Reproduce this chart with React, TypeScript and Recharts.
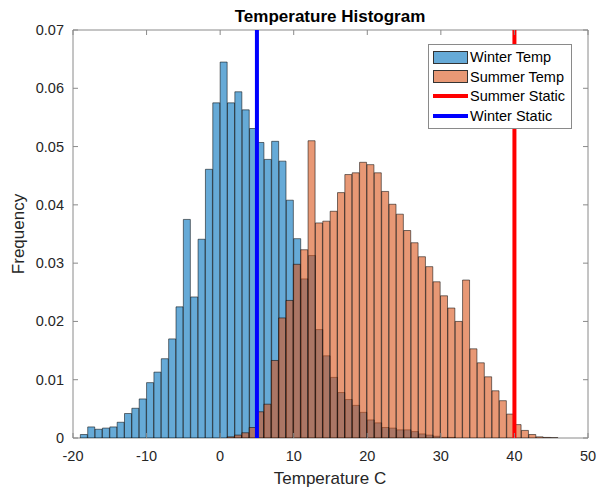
import { Bar, ComposedChart, ReferenceArea, ReferenceLine, XAxis, YAxis } from "recharts";

// histogram bins are 1 degree wide, first bin starts at -20
const BIN_START = -20;

// frequency per bin (bins -20 .. 49)
const WINTER = [
  0, 0.0006, 0.0019, 0.0015, 0.0017, 0.0019, 0.0027, 0.0042, 0.0051, 0.0067,
  0.0095, 0.0113, 0.0136, 0.017, 0.0225, 0.0375, 0.0242, 0.0341, 0.0461, 0.0575,
  0.0645, 0.0575, 0.0594, 0.0563, 0.0531, 0.0507, 0.0478, 0.0509, 0.0475, 0.0408,
  0.0342, 0.0273, 0.0313, 0.0186, 0.0141, 0.0104, 0.0078, 0.0066, 0.0056, 0.0044,
  0.0031, 0.0026, 0.0018, 0.0017, 0.0014, 0.0014, 0.0011, 0.0007, 0.0005, 0.0003,
  0.0001, 0.0001, 0, 0, 0, 0, 0, 0, 0, 0,
  0, 0, 0, 0, 0, 0, 0, 0, 0, 0,
];

const SUMMER = [
  0, 0, 0, 0, 0, 0, 0, 0, 0, 0,
  0, 0, 0, 0, 0, 0, 0, 0, 0, 0,
  0, 0.0002, 0.0005, 0.0009, 0.0018, 0.0045, 0.0058, 0.0133, 0.0206, 0.0236,
  0.0298, 0.0323, 0.051, 0.0369, 0.0372, 0.0389, 0.0421, 0.0452, 0.0455, 0.0473,
  0.0469, 0.0455, 0.0423, 0.0401, 0.0384, 0.0356, 0.0335, 0.0311, 0.0294, 0.0268,
  0.0244, 0.0223, 0.02, 0.0271, 0.0153, 0.0129, 0.0105, 0.0081, 0.0064, 0.0041,
  0.0023, 0.0013, 0.0006, 0.0002, 0.0001, 0.00005, 0, 0, 0, 0,
];

const X_TICKS = [-20, -10, 0, 10, 20, 30, 40, 50];
const Y_TICKS = [0, 0.01, 0.02, 0.03, 0.04, 0.05, 0.06, 0.07];

const WINTER_STATIC = 5;
const SUMMER_STATIC = 40;

const data = WINTER.map((winter, i) => ({ k: BIN_START + i, winter, summer: SUMMER[i] }));

const FONT = '"Liberation Sans", Arial, sans-serif';
const INK = "#262626";
const AXIS = "#8a8a8a";
const PLOT_LEFT = 73;
const PLOT_RIGHT = 588;
const PLOT_TOP = 30;
const PLOT_BOTTOM = 438;
const TICK_LEN = 5;

function XTick({ x, payload }: any) {
  return (
    <g>
      <line x1={x} x2={x} y1={PLOT_BOTTOM} y2={PLOT_BOTTOM - TICK_LEN} stroke={AXIS} />
      <line x1={x} x2={x} y1={PLOT_TOP} y2={PLOT_TOP + TICK_LEN} stroke={AXIS} />
      <text x={x} y={461} textAnchor="middle" fontSize={14.5} fontFamily={FONT} fill={INK}>
        {payload.value}
      </text>
    </g>
  );
}

function YTick({ y, payload }: any) {
  const label = payload.value === 0 ? "0" : Number(payload.value).toFixed(2);
  return (
    <g>
      <line x1={PLOT_LEFT} x2={PLOT_LEFT + TICK_LEN} y1={y} y2={y} stroke={AXIS} />
      <line x1={PLOT_RIGHT} x2={PLOT_RIGHT - TICK_LEN} y1={y} y2={y} stroke={AXIS} />
      <text x={64} y={y + 5} textAnchor="end" fontSize={14.5} fontFamily={FONT} fill={INK}>
        {label}
      </text>
    </g>
  );
}

const legendItems = [
  { label: "Winter Temp", kind: "patch", color: "#66AAD7" },
  { label: "Summer Temp", kind: "patch", color: "#E89875" },
  { label: "Summer Static", kind: "line", color: "#ff0000" },
  { label: "Winter Static", kind: "line", color: "#0000ff" },
];

function HistLegend() {
  return (
    <div
      style={{
        position: "absolute",
        left: 428,
        top: 44,
        width: 144,
        height: 85,
        boxSizing: "border-box",
        border: "1px solid #8a8a8a",
        background: "#fff",
        fontFamily: FONT,
        fontSize: 14.5,
        color: "#000",
      }}
    >
      {legendItems.map((item, i) => (
        <div
          key={item.label}
          style={{
            position: "absolute",
            left: 4,
            top: 2 + i * 19.7,
            height: 20,
            display: "flex",
            alignItems: "center",
            whiteSpace: "nowrap",
          }}
        >
          {item.kind === "patch" ? (
            <span
              style={{
                width: 35,
                height: 13,
                boxSizing: "border-box",
                background: item.color,
                border: "1px solid #333",
              }}
            />
          ) : (
            <span style={{ width: 35, height: 4, background: item.color }} />
          )}
          <span style={{ marginLeft: 2 }}>{item.label}</span>
        </div>
      ))}
    </div>
  );
}

export default function App() {
  return (
    <div style={{ position: "absolute", left: 0, top: 0, width: 598, height: 488, background: "#fff" }}>
      <ComposedChart
        width={598}
        height={488}
        data={data}
        margin={{ top: PLOT_TOP, right: 598 - PLOT_RIGHT, bottom: 0, left: 0 }}
        barCategoryGap={0}
        barGap="-100%"
      >
        <XAxis xAxisId="cat" dataKey="k" type="category" hide />
        <XAxis
          xAxisId="n"
          dataKey="k"
          type="number"
          domain={[-20, 50]}
          ticks={X_TICKS}
          interval={0}
          allowDataOverflow
          height={488 - PLOT_BOTTOM}
          axisLine={false}
          tickLine={false}
          tick={<XTick />}
        />
        <YAxis
          domain={[0, 0.07]}
          ticks={Y_TICKS}
          interval={0}
          allowDataOverflow
          width={PLOT_LEFT}
          axisLine={false}
          tickLine={false}
          tick={<YTick />}
        />
        <Bar
          xAxisId="cat"
          dataKey="winter"
          fill="#0072BD"
          fillOpacity={0.6}
          stroke="#000"
          strokeOpacity={0.75}
          strokeWidth={0.7}
          isAnimationActive={false}
        />
        <Bar
          xAxisId="cat"
          dataKey="summer"
          fill="#D95319"
          fillOpacity={0.6}
          stroke="#000"
          strokeOpacity={0.75}
          strokeWidth={0.7}
          isAnimationActive={false}
        />
        <ReferenceLine xAxisId="n" x={SUMMER_STATIC} stroke="#ff0000" strokeWidth={4} />
        <ReferenceLine xAxisId="n" x={WINTER_STATIC} stroke="#0000ff" strokeWidth={4} />
        <ReferenceArea
          xAxisId="n"
          x1={-20}
          x2={50}
          y1={0}
          y2={0.07}
          fill="none"
          stroke={AXIS}
          strokeWidth={1}
        />
        <text x={330} y={22} textAnchor="middle" fontSize={17} fontWeight="bold" fontFamily={FONT} fill="#000">
          Temperature Histogram
        </text>
        <text x={330} y={484} textAnchor="middle" fontSize={17} fontFamily={FONT} fill={INK}>
          Temperature C
        </text>
        <text
          x={24}
          y={234}
          textAnchor="middle"
          fontSize={17}
          fontFamily={FONT}
          fill={INK}
          transform="rotate(-90 24 234)"
        >
          Frequency
        </text>
      </ComposedChart>
      <HistLegend />
    </div>
  );
}
